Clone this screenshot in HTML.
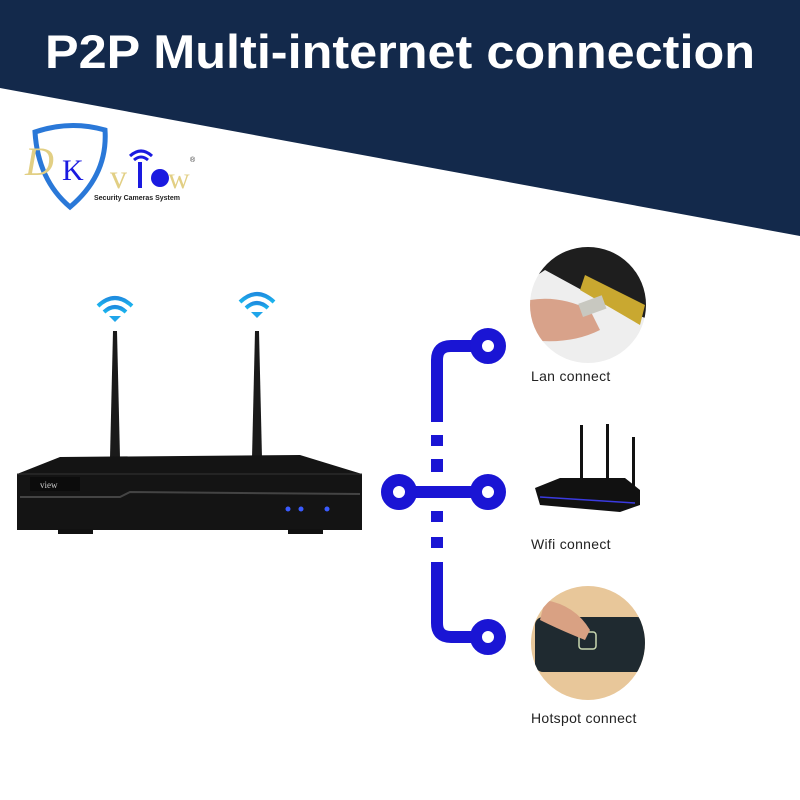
<!DOCTYPE html>
<html><head><meta charset="utf-8"><style>
body{margin:0;width:800px;height:800px;position:relative;overflow:hidden;background:#fff;font-family:"Liberation Sans",sans-serif}
.t{position:absolute;color:#222;font-size:14px;left:531px;letter-spacing:0.3px}
</style></head><body>
<svg width="800" height="800" style="position:absolute;left:0;top:0">
<defs>
<linearGradient id="wf" x1="0" y1="0" x2="0" y2="1"><stop offset="0" stop-color="#1f8de0"/><stop offset="1" stop-color="#1bb5ee"/></linearGradient>
<clipPath id="c1"><circle cx="588" cy="305" r="58"/></clipPath>
<clipPath id="c2"><circle cx="588" cy="643" r="57"/></clipPath>
</defs>
<polygon points="0,0 800,0 800,236 0,88" fill="#13294b"/>
<text x="45" y="68" textLength="710" lengthAdjust="spacingAndGlyphs" fill="#fff" font-size="47" font-weight="bold" font-family="Liberation Sans,sans-serif">P2P Multi-internet connection</text>
<!-- logo -->
<path d="M35,132 Q70,120 105,130 Q108,175 70,207 Q38,180 35,132Z" fill="#fff" stroke="#2a78d8" stroke-width="5"/>
<text x="25" y="175" font-size="40" fill="#e2cf84" font-family="Liberation Serif,serif" font-style="italic">D</text>
<text x="62" y="180" font-size="30" fill="#1a1ae0" font-family="Liberation Serif,serif">K</text>
<text x="110" y="188" font-size="34" fill="#e2cf84" font-family="Liberation Serif,serif">v</text>
<rect x="138" y="162" width="4" height="26" fill="#1a1ae0"/>
<circle cx="160" cy="178" r="9" fill="#1a1ae0"/>
<text x="168" y="188" font-size="30" fill="#e2cf84" font-family="Liberation Serif,serif">w</text>
<path d="M130,156 Q141,146 152,156 M134,160 Q141,154 148,160" stroke="#1a1ae0" stroke-width="3" fill="none"/>
<text x="94" y="200" font-size="7" fill="#222" font-weight="bold">Security Cameras System</text>
<text x="190" y="162" font-size="7" fill="#333">®</text>
<!-- wifi icons -->
<g fill="none" stroke="url(#wf)" stroke-width="4">
<path d="M98,306 Q115,290 132,306"/><path d="M104,312 Q115,302 126,312"/>
<path d="M240,302 Q257,286 274,302"/><path d="M246,308 Q257,298 268,308"/>
</g>
<path d="M109,316 L121,316 L115,322Z" fill="#1fa5ea"/><path d="M251,312 L263,312 L257,318Z" fill="#1fa5ea"/>
<!-- antennas -->
<path d="M113,331 L117,331 L120,458 L110,458Z" fill="#1a1a1a"/>
<path d="M255,331 L259,331 L262,458 L252,458Z" fill="#1a1a1a"/>
<!-- NVR -->
<path d="M17,474 L60,457 L300,455 L362,474 L362,530 L17,530Z" fill="#141414"/>
<path d="M17,474 L362,474" stroke="#333" stroke-width="1"/>
<rect x="30" y="477" width="50" height="14" fill="#0c0c0c"/>
<text x="40" y="488" font-size="9" fill="#ccc" font-family="Liberation Serif,serif">view</text>
<path d="M20,497 L120,497 L130,492 L360,494" stroke="#444" stroke-width="2" fill="none"/>
<rect x="58" y="529" width="35" height="5" fill="#111"/><rect x="288" y="529" width="35" height="5" fill="#111"/>
<circle cx="288" cy="509" r="2.5" fill="#3a5bff"/><circle cx="301" cy="509" r="2.5" fill="#3a5bff"/><circle cx="327" cy="509" r="2.5" fill="#3a5bff"/>
<!-- connectors -->
<g stroke="#1a15d4" stroke-width="12" fill="none">
<path d="M437,422 L437,360 Q437,346 451,346 L472,346"/>
<path d="M437,562 L437,623 Q437,637 451,637 L472,637"/>
<path d="M415,492 L472,492"/>
<path d="M437,435 L437,446 M437,459 L437,472 M437,511 L437,522 M437,537 L437,548"/>
</g>
<g fill="#fff" stroke="#1a15d4" stroke-width="12">
<circle cx="488" cy="346" r="12"/><circle cx="488" cy="492" r="12"/><circle cx="488" cy="637" r="12"/><circle cx="399" cy="492" r="12"/>
</g>
<!-- lan image -->
<g clip-path="url(#c1)">
<rect x="520" y="240" width="140" height="130" fill="#eeeeee"/>
<polygon points="530,245 650,245 650,320 600,300 545,270 530,280" fill="#1e1e1e"/>
<polygon points="585,275 645,305 640,325 580,290" fill="#c9a830"/>
<path d="M530,300 Q560,295 590,310 L600,330 Q570,345 530,340Z" fill="#d8a28a"/>
<rect x="580" y="300" width="25" height="14" fill="#c8c8c0" transform="rotate(-20 590 307)"/>
</g>
<!-- router -->
<polygon points="535,488 560,478 625,478 640,490 640,505 620,512 540,505" fill="#111"/>
<path d="M540,497 L635,503" stroke="#3a3ae0" stroke-width="1.5"/>
<rect x="580" y="425" width="3" height="55" fill="#111"/><rect x="606" y="424" width="3" height="56" fill="#111"/><rect x="632" y="437" width="3" height="50" fill="#111"/>
<!-- hotspot -->
<g clip-path="url(#c2)">
<rect x="525" y="580" width="130" height="130" fill="#e8c79a"/>
<rect x="535" y="617" width="110" height="55" rx="8" fill="#1f2a30"/>
<rect x="579" y="632" width="17" height="17" rx="3" fill="none" stroke="#c8d8b0" stroke-width="1.5"/>
<path d="M545,600 Q575,605 590,630 L585,640 Q560,630 540,620Z" fill="#d9a183"/>
</g>
</svg>
<div class="t" style="top:368px">Lan connect</div>
<div class="t" style="top:536px">Wifi connect</div>
<div class="t" style="top:710px">Hotspot connect</div>
</body></html>
